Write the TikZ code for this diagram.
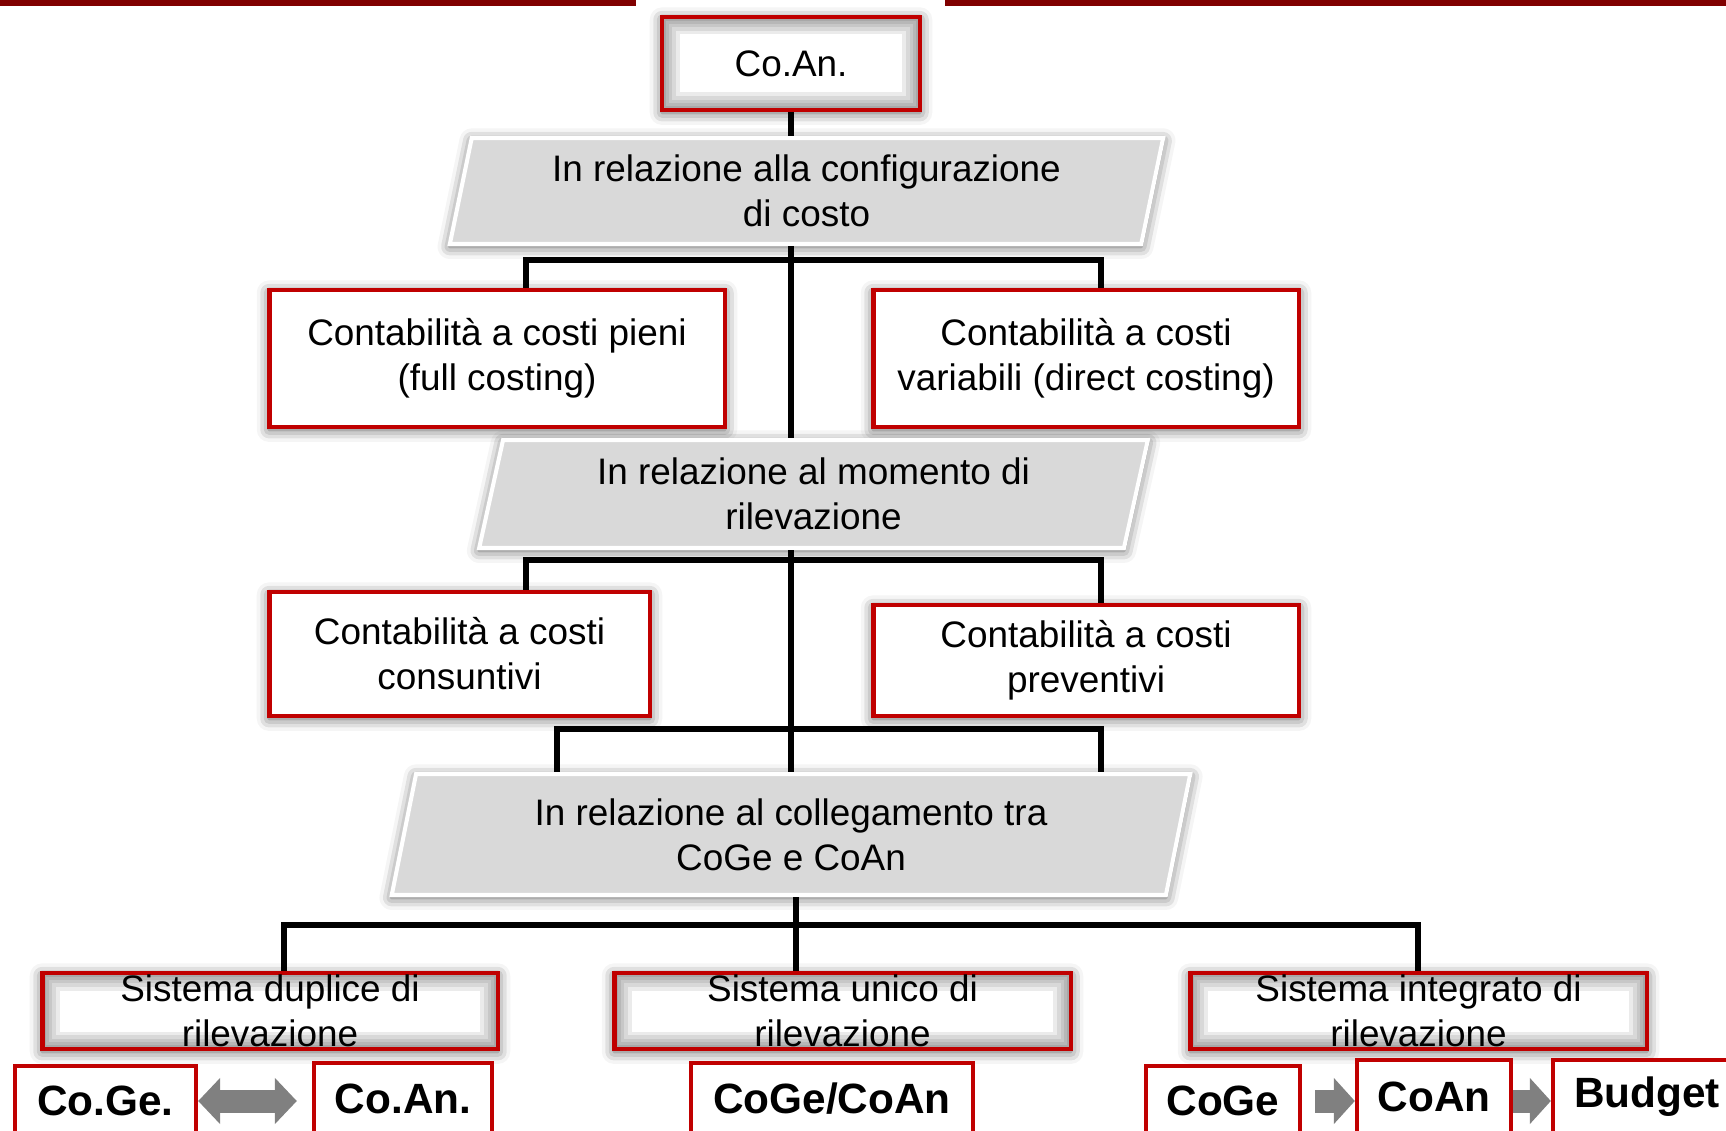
\documentclass[tikz,border=0pt]{standalone}
\usepackage{fontspec}
\setmainfont{Liberation Sans}
\usetikzlibrary{positioning}
\usetikzlibrary{shapes.geometric}
\usetikzlibrary{shadows.blur}
\usetikzlibrary{arrows.meta}
\definecolor{bordo}{HTML}{C00000}
\definecolor{barra}{HTML}{800000}
\definecolor{grigiochiaro}{HTML}{D9D9D9}
\definecolor{grigiofreccia}{HTML}{808080}

\begin{document}
\begin{tikzpicture}[x=0.02cm, y=-0.02cm,
    ombra/.style={blur shadow={shadow xshift=0pt, shadow yshift=-1.5pt, shadow blur radius=7pt, shadow opacity=65}},
    alone/.style={path picture={
      \foreach \w in {0.7cm, 0.55cm, 0.4cm, 0.28cm, 0.16cm, 0.08cm}
        \draw[black, opacity=0.08, line width=\w] (path picture bounding box.south west) rectangle (path picture bounding box.north east);}},
    scatola/.style={shape=rectangle, draw=bordo, line width=2.8pt, fill=white, inner sep=0pt, align=center, font=\fontsize{21}{25.6}\selectfont},
    criterio/.style={trapezium, trapezium left angle=77, trapezium right angle=103, trapezium stretches=true, draw=white, line width=2.3pt, fill=grigiochiaro, inner sep=0pt, align=center, font=\fontsize{21}{25.6}\selectfont},
    esito/.style={scatola, line width=2.5pt, font=\bfseries\fontsize{24.1}{28}\selectfont},
    linea/.style={line width=3pt},
    dardo/.style={draw=grigiofreccia, line width=0.46cm}]
  \useasboundingbox (0,0) rectangle (1726,1131);

  % barra in alto
  \fill[barra] (0,0) rectangle (636,6);
  \fill[barra] (945,0) rectangle (1726,6);

  \node[scatola, ombra, alone, minimum width=5.16cm, minimum height=1.86cm] (coan) at (791,63.5) {Co.An.};

  \node[criterio, ombra, minimum width=14.3cm, minimum height=2.12cm] (p1) at (806.5,191) {In relazione alla configurazione\\di costo};
  \node[scatola, ombra, minimum width=9.12cm, minimum height=2.74cm] (fc) at (497,358.5) {Contabilità a costi pieni\\(full costing)};
  \node[scatola, ombra, minimum width=8.52cm, minimum height=2.74cm] (dc) at (1086,358.5) {Contabilità a costi\\variabili (direct costing)};

  \node[criterio, ombra, minimum width=13.38cm, minimum height=2.16cm] (p2) at (813.5,494) {In relazione al momento di\\rilevazione};
  \node[scatola, ombra, minimum width=7.62cm, minimum height=2.48cm] (cons) at (459.5,654) {Contabilità a costi\\consuntivi};
  \node[scatola, ombra, minimum width=8.52cm, minimum height=2.22cm] (prev) at (1086,660.5) {Contabilità a costi\\preventivi};

  \node[criterio, ombra, minimum width=16.04cm, minimum height=2.42cm] (p3) at (791,834.5) {In relazione al collegamento tra\\CoGe e CoAn};

  \node[scatola, ombra, alone, minimum width=9.12cm, minimum height=1.52cm,
    label={[font=\fontsize{21}{25.6}\selectfont, align=center]center:{Sistema duplice di\\rilevazione}}] (sd) at (270,1011) {};
  \node[scatola, ombra, alone, minimum width=9.14cm, minimum height=1.52cm,
    label={[font=\fontsize{21}{25.6}\selectfont, align=center]center:{Sistema unico di\\rilevazione}}] (su) at (842.5,1011) {};
  \node[scatola, ombra, alone, minimum width=9.14cm, minimum height=1.52cm,
    label={[font=\fontsize{21}{25.6}\selectfont, align=center]center:{Sistema integrato di\\rilevazione}}] (si) at (1418.5,1011) {};

  \node[esito, minimum width=3.62cm, minimum height=1.4cm] (cg1) at (105.5,1101) {Co.Ge.};
  \node[esito, minimum width=3.56cm, minimum height=1.44cm] (ca1) at (403,1099) {Co.An.};
  \node[esito, minimum width=5.64cm, minimum height=1.44cm] (cgca) at (832,1099) {CoGe/CoAn};
  \node[esito, minimum width=3.08cm, minimum height=1.4cm] (cg2) at (1223,1101) {CoGe};
  \node[esito, minimum width=3.08cm, minimum height=1.48cm] (ca2) at (1434,1097) {CoAn};
  \node[esito, minimum width=3.76cm, minimum height=1.48cm] (bud) at (1647,1097) {Budget};

  % linee di collegamento
  \coordinate (a1) at (526,260);
  \coordinate (a2) at (1101,260);
  \coordinate (b1) at (526,560);
  \coordinate (b2) at (1101,560);
  \coordinate (c1) at (557,729);
  \coordinate (c2) at (1101,729);
  \coordinate (d1) at (284,925);
  \coordinate (d2) at (1418,925);

  \draw[linea] (coan.south) -- (coan.south |- p1.north);
  \draw[linea] (coan.south |- p1.south) -- (coan.south |- p2.north);
  \draw[linea] (a1 |- fc.north) -- (a1) -- (a2) -- (a2 |- dc.north);
  \draw[linea] (coan.south |- p2.south) -- (coan.south |- p3.north);
  \draw[linea] (b1 |- cons.north) -- (b1) -- (b2) -- (b2 |- prev.north);
  \draw[linea] (c1 |- p3.north) -- (c1) -- (c2) -- (c2 |- p3.north);
  \draw[linea] ([xshift=0.1cm]coan.south |- p3.south) -- ([xshift=0.1cm]coan.south |- su.north);
  \draw[linea] (d1 |- sd.north) -- (d1) -- (d2) -- (d2 |- si.north);

  % frecce grigie
  \draw[dardo, {Triangle[length=0.44cm,width=0.9cm]}-{Triangle[length=0.44cm,width=0.9cm]}] (cg1.east) -- ([xshift=-0.3cm]ca1.west |- cg1.east);
  \draw[dardo, -{Triangle[length=0.42cm,width=0.9cm]}] ([xshift=0.26cm]cg2.east) -- (ca2.west |- cg2.east);
  \draw[dardo, -{Triangle[length=0.42cm,width=0.9cm]}] (ca2.east |- cg2.east) -- (bud.west |- cg2.east);
\end{tikzpicture}
\end{document}
